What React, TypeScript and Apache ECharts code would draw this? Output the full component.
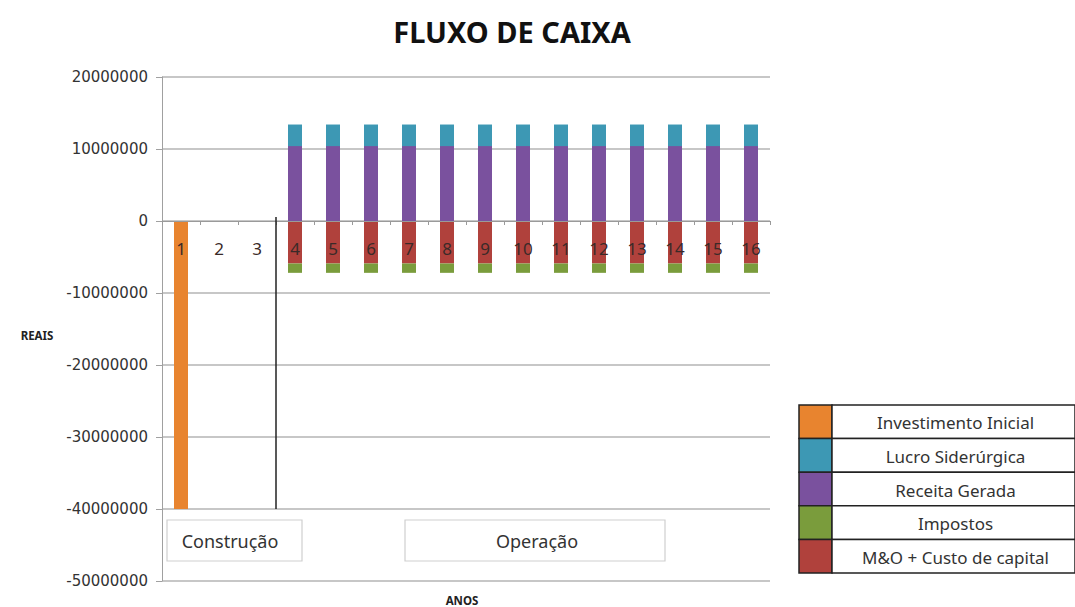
import React, { useEffect, useRef } from "react";
import * as echarts from "echarts";

const categories = ["1", "2", "3", "4", "5", "6", "7", "8", "9", "10", "11", "12", "13", "14", "15", "16"];
const investimentoInicial = [-40000000, null, null, null, null, null, null, null, null, null, null, null, null, null, null, null];
const receitaGerada = [null, null, null, 10400000, 10400000, 10400000, 10400000, 10400000, 10400000, 10400000, 10400000, 10400000, 10400000, 10400000, 10400000, 10400000];
const lucroSiderurgica = [null, null, null, 3000000, 3000000, 3000000, 3000000, 3000000, 3000000, 3000000, 3000000, 3000000, 3000000, 3000000, 3000000, 3000000];
const custoCapital = [null, null, null, -5900000, -5900000, -5900000, -5900000, -5900000, -5900000, -5900000, -5900000, -5900000, -5900000, -5900000, -5900000, -5900000];
const impostos = [null, null, null, -1300000, -1300000, -1300000, -1300000, -1300000, -1300000, -1300000, -1300000, -1300000, -1300000, -1300000, -1300000, -1300000];
const yTicks = { min: -50000000, max: 20000000, interval: 10000000 };
const legendItems = [
  { name: "Investimento Inicial", color: "#E8842F" },
  { name: "Lucro Siderúrgica", color: "#3D98B4" },
  { name: "Receita Gerada", color: "#7A519E" },
  { name: "Impostos", color: "#7A9C3C" },
  { name: "M&O + Custo de capital", color: "#B0413C" },
];
const phaseLabels = ["Construção", "Operação"];

const FONT = "Noto Sans";

export default function App() {
  const ref = useRef<HTMLDivElement>(null);
  useEffect(() => {
    if (!ref.current) return;
    const chart = echarts.init(ref.current, null, { renderer: "svg" });
    const colorOf = (n: string) => legendItems.find((l) => l.name === n)!.color;
    const barBase = { type: "bar" as const, stack: "fluxo", barWidth: 14, z: 2 };
    chart.setOption({
      animation: false,
      backgroundColor: "#ffffff",
      title: {
        text: "FLUXO DE CAIXA",
        left: 507,
        top: 12,
        textAlign: "center",
        textStyle: { fontFamily: FONT, fontSize: 29, fontWeight: "bold", color: "#111" },
      },
      grid: { left: 162, right: 305, top: 77, bottom: 26, outerBoundsMode: "none", containLabel: false },
      xAxis: {
        type: "category",
        data: categories,
        z: 5,
        position: "bottom",
        offset: 0,
        axisLine: { onZero: false, lineStyle: { color: "#9a9a9a", width: 1 } },
        axisTick: { show: true, length: 4, inside: false, lineStyle: { color: "#9a9a9a" } },
        axisLabel: { margin: 19, fontFamily: FONT, fontSize: 17, color: "#3a2a28" },
        splitLine: { show: false },
      },
      yAxis: {
        type: "value",
        min: yTicks.min,
        max: yTicks.max,
        interval: yTicks.interval,
        axisLine: { show: true, lineStyle: { color: "#a0a0a0" } },
        axisTick: { show: true, length: 6, lineStyle: { color: "#a0a0a0" } },
        axisLabel: {
          margin: 14,
          fontFamily: "DejaVu Sans",
          fontSize: 15,
          color: "#333",
          formatter: (v: number) => String(v),
        },
        splitLine: { lineStyle: { color: "#b4b4b4", width: 1.5 } },
      },
      series: [
        { ...barBase, name: "Investimento Inicial", data: investimentoInicial, itemStyle: { color: colorOf("Investimento Inicial") } },
        { ...barBase, name: "Receita Gerada", data: receitaGerada, itemStyle: { color: colorOf("Receita Gerada") } },
        { ...barBase, name: "Lucro Siderúrgica", data: lucroSiderurgica, itemStyle: { color: colorOf("Lucro Siderúrgica") } },
        { ...barBase, name: "M&O + Custo de capital", data: custoCapital, itemStyle: { color: colorOf("M&O + Custo de capital") } },
        { ...barBase, name: "Impostos", data: impostos, itemStyle: { color: colorOf("Impostos") } },
      ],
    });

    // move the category axis up so that it crosses the value axis at zero
    const yZero0 = chart.convertToPixel({ yAxisIndex: 0 }, 0) as number;
    const yMin0 = chart.convertToPixel({ yAxisIndex: 0 }, yTicks.min) as number;
    chart.setOption({ xAxis: { offset: yZero0 - yMin0 } });

    const x3 = chart.convertToPixel({ xAxisIndex: 0 }, 2) as number;
    const x4 = chart.convertToPixel({ xAxisIndex: 0 }, 3) as number;
    const xMid = (x3 + x4) / 2;
    const yZero = chart.convertToPixel({ yAxisIndex: 0 }, 0) as number;
    const yBottom = chart.convertToPixel({ yAxisIndex: 0 }, -40000000) as number;

    const legX = 799, legY = 405, rowH = 33.6, legW = 276, swW = 33;
    const legendEls: any[] = [];
    legendItems.forEach((l, i) => {
      const y = legY + i * rowH;
      legendEls.push({ type: "rect", shape: { x: legX, y, width: swW, height: rowH }, style: { fill: l.color, stroke: "#222", lineWidth: 1.5 }, z: 10 });
      legendEls.push({ type: "rect", shape: { x: legX + swW, y, width: legW - swW, height: rowH }, style: { fill: "#fff", stroke: "#222", lineWidth: 1.5 }, z: 10 });
      legendEls.push({
        type: "text",
        x: legX + swW + (legW - swW) / 2 + 2,
        y: y + rowH / 2 + 1,
        style: { text: l.name, fontFamily: FONT, fontSize: 17, fill: "#333", align: "center", verticalAlign: "middle" },
        z: 11,
      });
    });

    chart.setOption({
      graphic: [
        { type: "line", shape: { x1: xMid, y1: yZero - 4, x2: xMid, y2: yBottom }, style: { stroke: "#222", lineWidth: 1.5 }, z: 10 },
        { type: "rect", shape: { x: 167, y: 520, width: 135, height: 41 }, style: { fill: "#fff", stroke: "#cfcfcf", lineWidth: 1.2 }, z: 10 },
        { type: "text", x: 230, y: 541, style: { text: phaseLabels[0], fontFamily: FONT, fontSize: 18, fill: "#333", align: "center", verticalAlign: "middle" }, z: 11 },
        { type: "rect", shape: { x: 405, y: 520, width: 260, height: 41 }, style: { fill: "#fff", stroke: "#cfcfcf", lineWidth: 1.2 }, z: 10 },
        { type: "text", x: 537, y: 541, style: { text: phaseLabels[1], fontFamily: FONT, fontSize: 18, fill: "#333", align: "center", verticalAlign: "middle" }, z: 11 },
        { type: "text", x: 37, y: 335, style: { text: "REAIS", fontFamily: FONT, fontSize: 11.5, fontWeight: "bold", fill: "#222", align: "center", verticalAlign: "middle" }, z: 11 },
        { type: "text", x: 462, y: 600, style: { text: "ANOS", fontFamily: FONT, fontSize: 11.5, fontWeight: "bold", fill: "#222", align: "center", verticalAlign: "middle" }, z: 11 },
        ...legendEls,
      ],
    });
    return () => chart.dispose();
  }, []);
  return <div ref={ref} style={{ position: "fixed", left: 0, top: 0, width: 1075, height: 607 }} />;
}
